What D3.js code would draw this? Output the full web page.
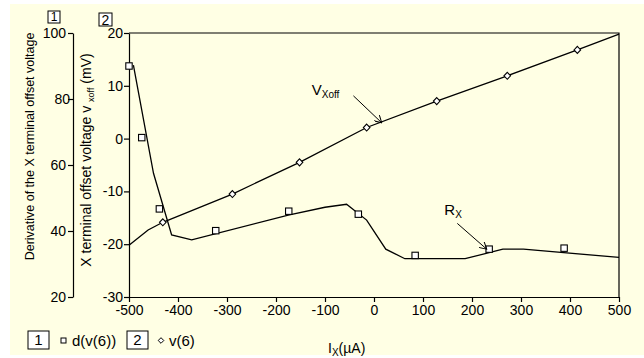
<!DOCTYPE html>
<html>
<head>
<meta charset="utf-8">
<script src="https://cdn.jsdelivr.net/npm/d3@7"></script>
<style>
  body { margin: 0; background: #fff; }
  svg text { font-family: Arial, 'Liberation Sans', sans-serif; fill: #000; }
  .axis path, .axis line { stroke: #000; stroke-width: 1.2; }
  .axis text { font-size: 14px; font-family: Arial, 'Liberation Sans', sans-serif; }
</style>
</head>
<body>
<svg id="chart"></svg>
<script>
// data
const xTicks = [-500, -400, -300, -200, -100, 0, 100, 200, 300, 400, 500];
const vTicks = [-30, -20, -10, 0, 10, 20];
const dTicks = [20, 40, 60, 80, 100];

// series 1: d(v(6)) (left axis 1)
const dMarkerI = [-500, -474, -438, -323, -174, -32, 84, 235, 388];
const dMarkerV = [90, 68.3, 46.7, 40.1, 46, 45.1, 32.6, 34.5, 34.8];
const dCurveI = [-491, -450, -413, -372, -175, -100, -56, -15, 24, 63, 186, 263, 305, 500];
const dCurveV = [90.3, 57.5, 38.8, 37.3, 44.8, 47.2, 48.1, 43.3, 34.5, 31.6, 31.6, 34.5, 34.5, 32];

// series 2: v(6) (axis 2, mV)
const vMarkerI = [-431, -289, -152, -15, 128, 272, 415];
const vMarkerV = [-15.85, -10.5, -4.5, 2.1, 7.1, 11.9, 16.8];
const vCurveI = [-500, -461, -431, -289, -152, -15, 128, 272, 415, 500];
const vCurveV = [-20.2, -17.3, -15.85, -10.5, -4.5, 2.1, 7.1, 11.9, 16.8, 19.8];

// annotations: [label I, label value, arrow start I, value, arrow end I, value]
const vxoffNote = [-127, 8.3, -42, 8.1, 15.7, 3.0];
const rxNote = [143.5, 44.8, 170, 42.3, 230, 34.5];

const width = 644, height = 358;
const svg = d3.select('#chart').attr('width', width).attr('height', height);

svg.append('rect')
  .attr('x', 10).attr('y', 4)
  .attr('width', width - 10).attr('height', 351)
  .attr('fill', '#ffffe4');

// scales
const x = d3.scaleLinear().domain([-500, 500]).range([129, 619]);
const yV = d3.scaleLinear().domain([-30, 20]).range([297, 33]);
const yD = d3.scaleLinear().domain([20, 100]).range([297, 33]);

const plain = d => String(d);

// frame top / right
svg.append('path')
  .attr('d', `M${x(-500)},${yV(20)}H${x(500)}V${yV(-30)}`)
  .attr('fill', 'none').attr('stroke', '#000').attr('stroke-width', 1.2);

// axes
svg.append('g').attr('class', 'axis')
  .attr('transform', `translate(0,${yV(-30)})`)
  .call(d3.axisBottom(x).tickValues(xTicks).tickFormat(plain)
    .tickSize(5).tickSizeOuter(0).tickPadding(3));

svg.append('g').attr('class', 'axis')
  .attr('transform', `translate(${x(-500)},0)`)
  .call(d3.axisLeft(yV).tickValues(vTicks).tickFormat(plain)
    .tickSize(5).tickSizeOuter(0).tickPadding(1));

svg.append('g').attr('class', 'axis')
  .attr('transform', 'translate(73,0)')
  .call(d3.axisLeft(yD).tickValues(dTicks).tickFormat(plain)
    .tickSize(5).tickSizeOuter(0).tickPadding(2))
  .selectAll('.tick text')
  .attr('dx', d => d === 80 ? 4 : 0);

// axis titles
svg.append('text')
  .attr('transform', `translate(34,${(33 + 260) / 2}) rotate(-90)`)
  .attr('text-anchor', 'middle')
  .style('font-size', '12.5px')
  .text('Derivative of the X terminal offset voltage');

const t2 = svg.append('text')
  .attr('transform', `translate(91,${(52 + 268) / 2}) rotate(-90)`)
  .attr('text-anchor', 'middle')
  .style('font-size', '14px');
t2.append('tspan').text('X terminal offset voltage v ');
t2.append('tspan').attr('dy', 3).style('font-size', '9px').text('xoff');
t2.append('tspan').attr('dy', -3).text(' (mV)');

const xt = svg.append('text')
  .attr('x', 328).attr('y', 353)
  .style('font-size', '14px');
xt.append('tspan').text('I');
xt.append('tspan').attr('dy', 3).style('font-size', '10px').text('X');
xt.append('tspan').attr('dy', -3).text('(\u00b5A)');

// axis number boxes
function numBox(bx, by, w, h, label, fs) {
  svg.append('rect')
    .attr('x', bx).attr('y', by).attr('width', w).attr('height', h)
    .attr('fill', '#fff').attr('stroke', '#000').attr('stroke-width', 1);
  svg.append('text')
    .attr('x', bx + w / 2).attr('y', by + h / 2)
    .attr('dy', '0.36em')
    .attr('text-anchor', 'middle')
    .style('font-size', fs + 'px')
    .text(label);
}
numBox(48, 11, 12, 12, '1', 12);
numBox(99, 13, 13, 13, '2', 14);

// curves
const line = (xs, ys, yScale) => d3.line()
  .x((d, i) => x(xs[i]))
  .y((d, i) => yScale(ys[i]))(xs);

svg.append('path')
  .attr('d', line(dCurveI, dCurveV, yD))
  .attr('fill', 'none').attr('stroke', '#000').attr('stroke-width', 1.3);

svg.append('path')
  .attr('d', line(vCurveI, vCurveV, yV))
  .attr('fill', 'none').attr('stroke', '#000').attr('stroke-width', 1.3);

// markers
const diamond = 'M0,-3.5L3.3,0L0,3.5L-3.3,0Z';

svg.selectAll('.dmark')
  .data(dMarkerI)
  .enter().append('rect')
  .attr('x', (d, i) => x(d) - 3.2)
  .attr('y', (d, i) => yD(dMarkerV[i]) - 3.2)
  .attr('width', 6.4).attr('height', 6.4)
  .attr('fill', '#fff').attr('stroke', '#000').attr('stroke-width', 1.1);

svg.selectAll('.vmark')
  .data(vMarkerI)
  .enter().append('path')
  .attr('transform', (d, i) => `translate(${x(d)},${yV(vMarkerV[i])})`)
  .attr('d', diamond)
  .attr('fill', '#fff').attr('stroke', '#000').attr('stroke-width', 1.1);

// annotations
svg.append('defs').append('marker')
  .attr('id', 'arrow')
  .attr('viewBox', '0 0 8 8')
  .attr('refX', 7).attr('refY', 4)
  .attr('markerWidth', 8).attr('markerHeight', 8)
  .attr('markerUnits', 'userSpaceOnUse')
  .attr('orient', 'auto')
  .append('path')
  .attr('d', 'M0,0L7,4L0,8')
  .attr('fill', 'none').attr('stroke', '#000').attr('stroke-width', 1);

function note(n, yScale, main, sub) {
  const t = svg.append('text')
    .attr('x', x(n[0])).attr('y', yScale(n[1]))
    .style('font-size', '15px');
  t.append('tspan').text(main);
  t.append('tspan').attr('dy', 3).style('font-size', '10px').text(sub);
  svg.append('line')
    .attr('x1', x(n[2])).attr('y1', yScale(n[3]))
    .attr('x2', x(n[4])).attr('y2', yScale(n[5]))
    .attr('stroke', '#000').attr('stroke-width', 1)
    .attr('marker-end', 'url(#arrow)');
}
note(vxoffNote, yV, 'V', 'Xoff');
note(rxNote, yD, 'R', 'X');

// legend
numBox(28, 331, 21, 18, '1', 15);
svg.append('rect')
  .attr('x', 61).attr('y', 338).attr('width', 5).attr('height', 5)
  .attr('fill', '#fff').attr('stroke', '#000').attr('stroke-width', 1);
svg.append('text').attr('x', 72).attr('y', 346).style('font-size', '15px').text('d(v(6))');

numBox(127, 331, 21, 18, '2', 15);
svg.append('path')
  .attr('transform', 'translate(161,340.5)')
  .attr('d', 'M0,-2.8L2.8,0L0,2.8L-2.8,0Z')
  .attr('fill', '#fff').attr('stroke', '#000').attr('stroke-width', 1);
svg.append('text').attr('x', 169).attr('y', 346).style('font-size', '15px').text('v(6)');
</script>
</body>
</html>
